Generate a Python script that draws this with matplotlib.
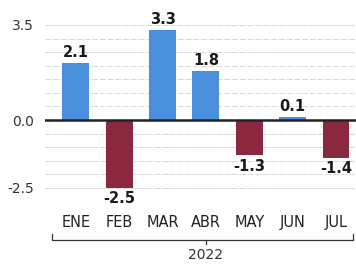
import numpy as np
import matplotlib
matplotlib.use('Agg')
import matplotlib.pyplot as plt

months = ['ENE', 'FEB', 'MAR', 'ABR', 'MAY', 'JUN', 'JUL']
values = [2.1, -2.5, 3.3, 1.8, -1.3, 0.1, -1.4]
yticks = [-2.5, 0.0, 3.5]
year = '2022'

blue = '#4a8fdb'
maroon = '#8a2840'

def main():
    fig = plt.figure(figsize=(3.56, 2.67), dpi=100)
    ax = fig.add_axes([45 / 356, 1 - 205 / 267, 311 / 356, 205 / 267])

    x = np.arange(len(months))
    colors = [blue if v >= 0 else maroon for v in values]
    ax.bar(x, values, width=0.62, color=colors, zorder=3)

    # faint grid every 0.5 between the outer ticks
    for g in np.arange(-2.5, 3.51, 0.5):
        if abs(g) > 1e-9:
            ax.axhline(g, color='#d8d8d8', lw=0.7, ls=(0, (6, 2)), zorder=1)
    ax.axhline(0, color='#222222', lw=1.8, zorder=4)

    for xi, v in zip(x, values):
        off = 0.12 if v >= 0 else -0.12
        ax.text(xi, v + off, f'{v:.1f}', ha='center',
                va='bottom' if v >= 0 else 'top',
                fontsize=10.5, fontweight='bold', color='#1a1a1a', zorder=5)

    ax.set_xlim(-0.71, 6.46)
    ax.set_ylim(-3.13, 4.42)
    ax.set_yticks(yticks)
    ax.set_yticklabels([f'{t:.1f}' for t in yticks], fontsize=10, color='#333333')
    ax.tick_params(axis='y', length=0, pad=8)
    ax.set_xticks([])
    for s in ax.spines.values():
        s.set_visible(False)

    # month labels and year bracket
    for xi, m in zip(x, months):
        ax.text(xi, -3.76, m, ha='center', va='center', fontsize=10.5,
                color='#222222', clip_on=False)
    y0 = -4.43
    ax.plot([-0.55, -0.55, 6.4, 6.4], [y0 + 0.25, y0, y0, y0 + 0.25],
            color='#333333', lw=0.9, clip_on=False)
    ax.plot([3.0, 3.0], [y0, y0 - 0.12], color='#333333', lw=0.9, clip_on=False)
    ax.text(3.0, -4.98, year, ha='center', va='center', fontsize=10,
            color='#333333', clip_on=False)

    fig.savefig('out.png', dpi=100, facecolor='white')

if __name__ == '__main__':
    main()
